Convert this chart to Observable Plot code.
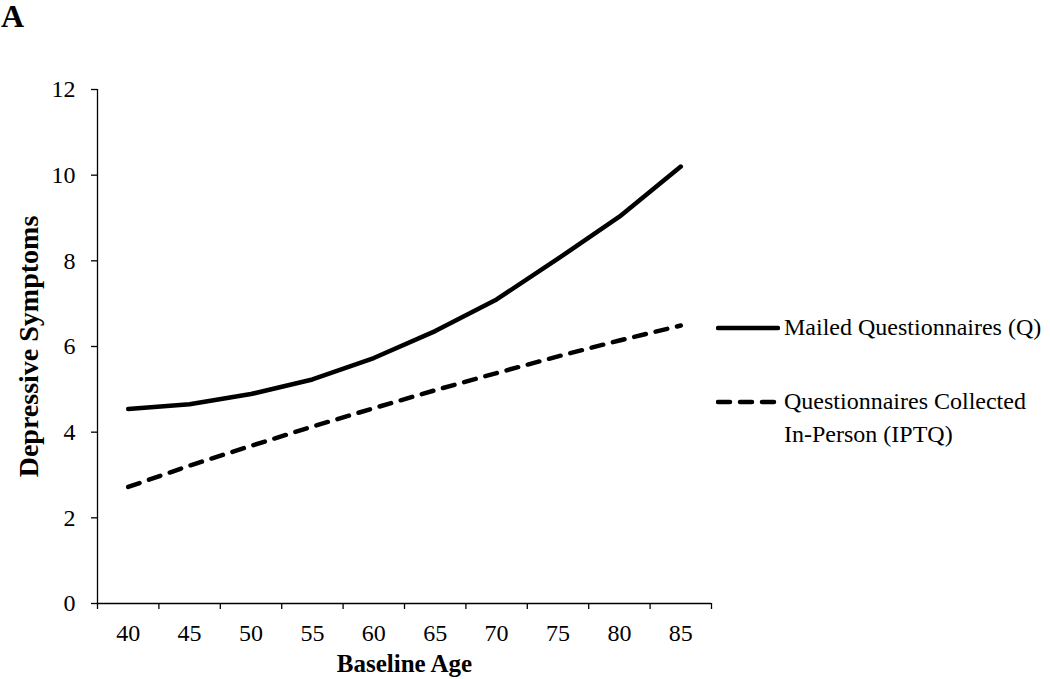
<!DOCTYPE html>
<html>
<head>
<meta charset="utf-8">
<script src="https://cdn.jsdelivr.net/npm/d3@7"></script>
<script src="https://cdn.jsdelivr.net/npm/@observablehq/plot@0.6"></script>
<style>
  html, body { margin: 0; padding: 0; background: #fff; }
  #wrap { position: relative; width: 1050px; height: 679px; font-family: "Liberation Serif", "Times New Roman", serif; color: #000; }
  #panel { position: absolute; left: 1px; top: -2px; font-size: 32px; font-weight: bold; }
  .leg { position: absolute; font-size: 24px; line-height: 33px; white-space: nowrap; }
  .leg svg { position: absolute; left: 0; top: 0; }
</style>
</head>
<body>
<div id="wrap">
  <div id="chart"></div>
  <div id="panel">A</div>
  <div class="leg" style="left:716px; top:311px;">
    <svg width="64" height="33"><line x1="2" y1="17" x2="62" y2="17" stroke="#000" stroke-width="4.5" stroke-linecap="round"/></svg>
    <span style="position:absolute; left:68px; top:0;">Mailed Questionnaires (Q)</span>
  </div>
  <div class="leg" style="left:716px; top:385px;">
    <svg width="64" height="33"><line x1="2" y1="17" x2="62" y2="17" stroke="#000" stroke-width="4.5" stroke-linecap="round" stroke-dasharray="12,10"/></svg>
    <span style="position:absolute; left:68px; top:0;">Questionnaires Collected<br>In-Person (IPTQ)</span>
  </div>
</div>
<script>
const ages = [40, 45, 50, 55, 60, 65, 70, 75, 80, 85];
const mailedQ = [4.54, 4.65, 4.89, 5.23, 5.73, 6.36, 7.10, 8.05, 9.03, 10.20];
const inPersonIPTQ = [2.72, 3.22, 3.68, 4.13, 4.56, 4.98, 5.38, 5.77, 6.14, 6.49];
const yTicks = [0, 2, 4, 6, 8, 10, 12];
const xBoundaries = [37.5, 42.5, 47.5, 52.5, 57.5, 62.5, 67.5, 72.5, 77.5, 82.5, 87.5];

const rowsQ = ages.map((a, i) => ({age: a, v: mailedQ[i]}));
const rowsP = ages.map((a, i) => ({age: a, v: inPersonIPTQ[i]}));

const chart = Plot.plot({
  width: 1050,
  height: 679,
  marginLeft: 97,
  marginRight: 339,
  marginTop: 89,
  marginBottom: 76,
  style: {fontFamily: "Liberation Serif, Times New Roman, serif", fontSize: "24px", color: "#000", background: "#fff"},
  x: {domain: [37.5, 87.5]},
  y: {domain: [0, 12]},
  marks: [
    Plot.axisY({ticks: yTicks, tickSize: 6, tickPadding: 16, label: null, stroke: "#000", strokeWidth: 1.3, fontSize: 24}),
    Plot.axisX({ticks: xBoundaries, tickSize: 6, tickFormat: () => "", label: null, stroke: "#000", strokeWidth: 1.3}),
    Plot.axisX({ticks: ages, tickSize: 0, tickPadding: 20, label: null, fontSize: 24}),
    Plot.ruleX([37.5], {stroke: "#000", strokeWidth: 1.3}),
    Plot.ruleY([0], {stroke: "#000", strokeWidth: 1.3}),
    Plot.line(rowsQ, {x: "age", y: "v", stroke: "#000", strokeWidth: 4.5, strokeLinecap: "round", strokeLinejoin: "round"}),
    Plot.line(rowsP, {x: "age", y: "v", stroke: "#000", strokeWidth: 4.5, strokeLinecap: "round", strokeDasharray: "12,10"}),
    Plot.text(["Baseline Age"], {frameAnchor: "bottom", dy: 60, text: d => d, fontWeight: "bold", fontSize: 25, lineAnchor: "middle", textAnchor: "middle"}),
    Plot.text(["Depressive Symptoms"], {frameAnchor: "left", dx: -68, rotate: -90, text: d => d, fontWeight: "bold", fontSize: 28, lineAnchor: "middle", textAnchor: "middle"})
  ]
});
document.getElementById("chart").appendChild(chart);
</script>
</body>
</html>
